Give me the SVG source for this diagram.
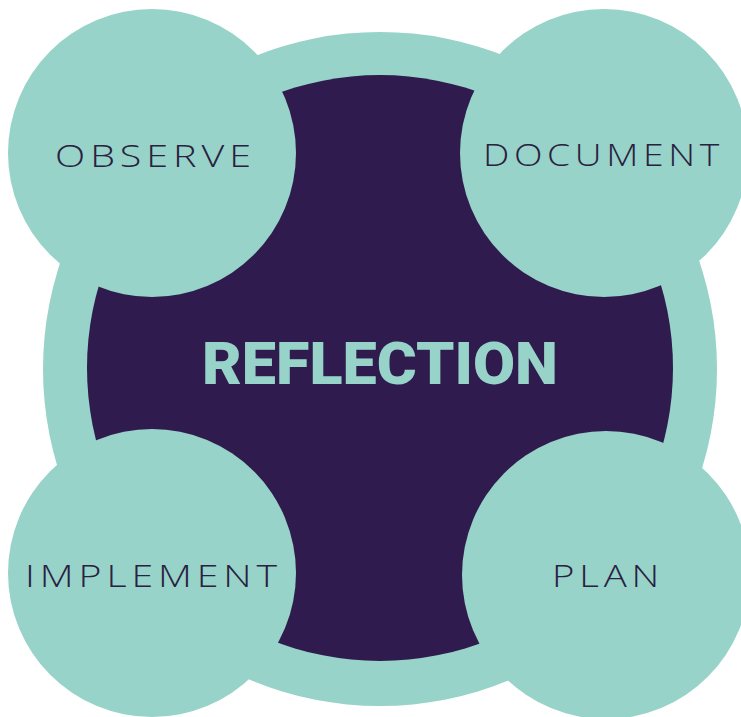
<svg xmlns="http://www.w3.org/2000/svg" width="741" height="717" viewBox="0 0 741 717">
  <style>
    .teal { fill: #97D3C9; }
    .dark { fill: #2F1B4E; }
    .label { font-family: "Open Sans", "Liberation Sans", sans-serif; font-size: 32px; font-weight: 300; letter-spacing: 4px; fill: #2A2140; text-anchor: middle; }
    .title { font-family: Roboto, "Liberation Sans", sans-serif; font-size: 60px; font-weight: 900; fill: #97D3C9; text-anchor: middle; }
  </style>
  <rect width="741" height="717" fill="#FFFFFF"/>
  <g id="reflection">
    <circle class="teal" cx="380" cy="369" r="337"/>
    <circle class="dark" cx="380" cy="368" r="293"/>
    <text class="title" x="380" y="384" textLength="356" lengthAdjust="spacingAndGlyphs">REFLECTION</text>
  </g>
  <g id="observe">
    <circle class="teal" cx="152" cy="153" r="144"/>
    <text class="label" x="155.5" y="167" textLength="201" lengthAdjust="spacingAndGlyphs">OBSERVE</text>
  </g>
  <g id="document">
    <circle class="teal" cx="604" cy="153" r="144"/>
    <text class="label" x="603.5" y="166" textLength="241" lengthAdjust="spacingAndGlyphs">DOCUMENT</text>
  </g>
  <g id="implement">
    <circle class="teal" cx="152" cy="573" r="144"/>
    <text class="label" x="153.5" y="587" textLength="257" lengthAdjust="spacingAndGlyphs">IMPLEMENT</text>
  </g>
  <g id="plan">
    <circle class="teal" cx="606" cy="575" r="144"/>
    <text class="label" x="608" y="587" textLength="112" lengthAdjust="spacingAndGlyphs">PLAN</text>
  </g>
</svg>
